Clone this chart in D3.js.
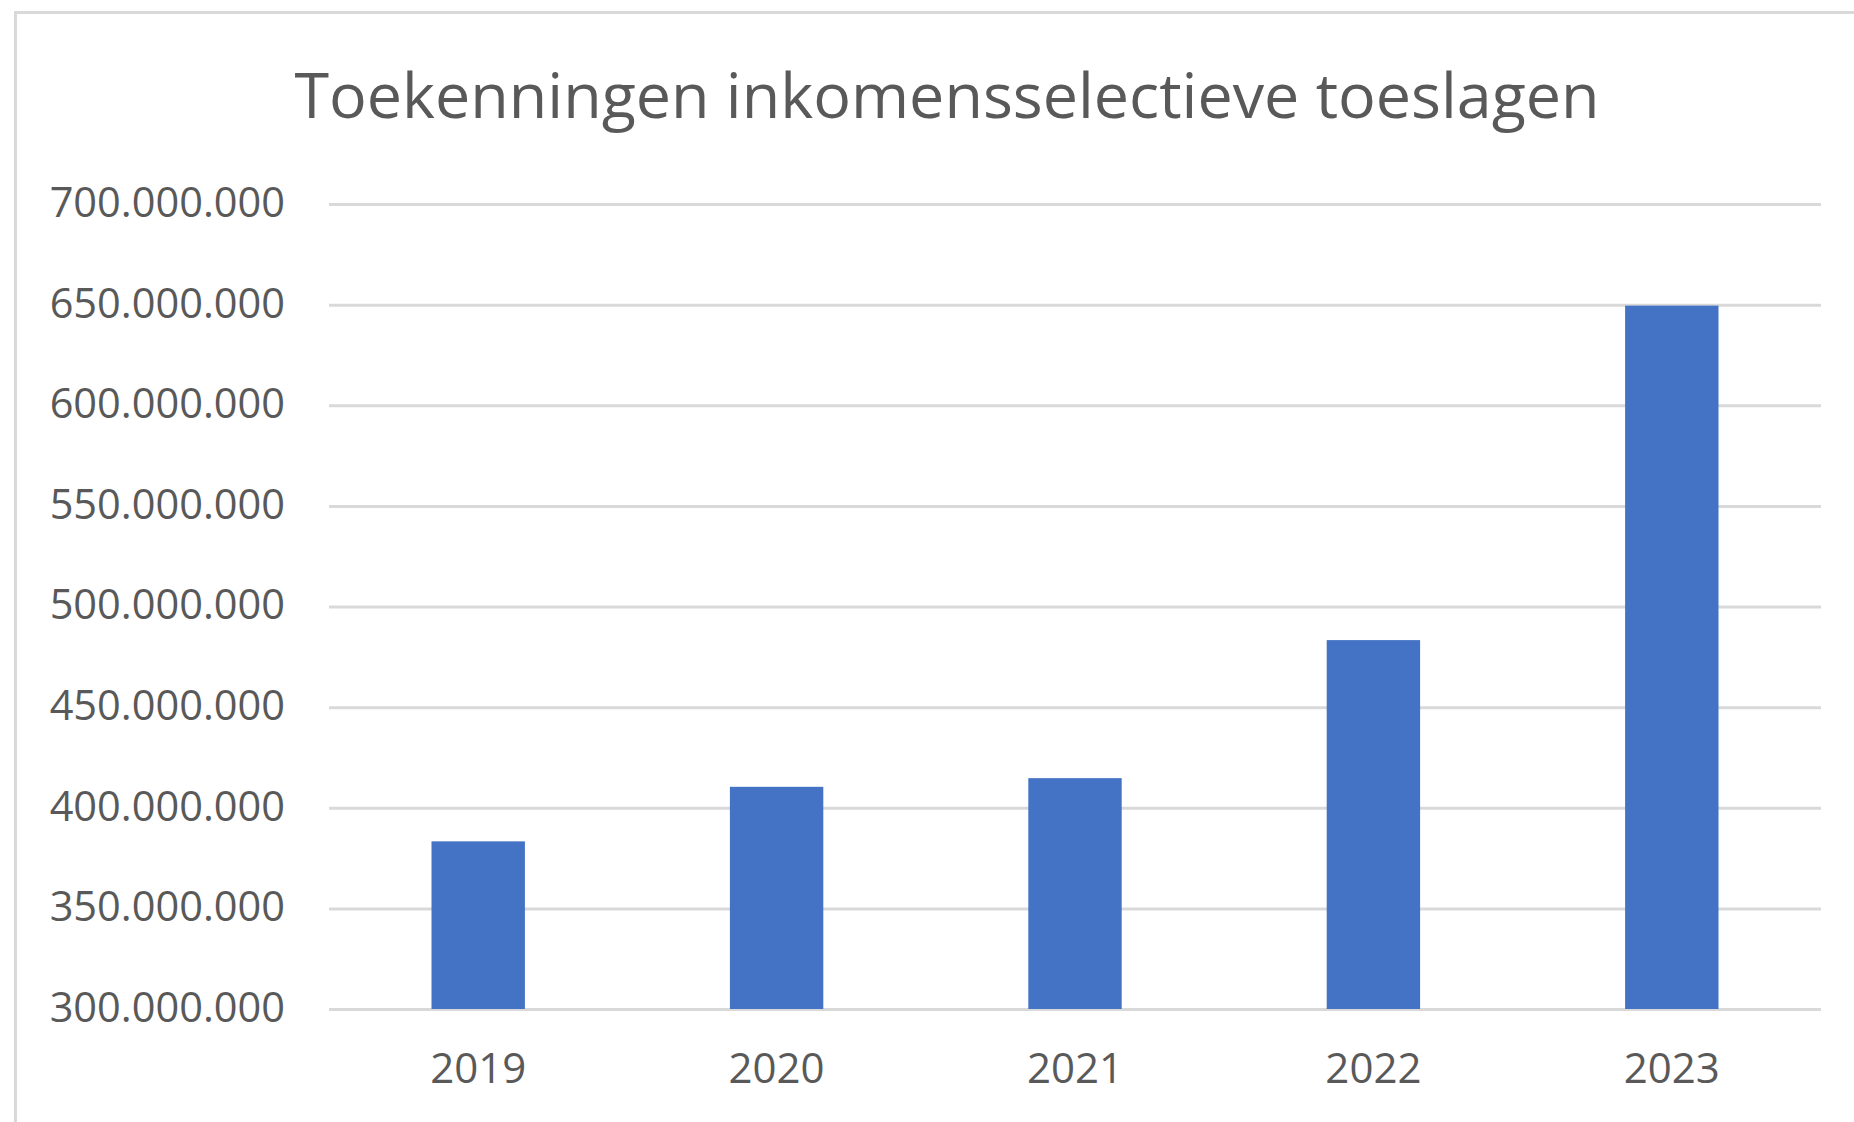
<!DOCTYPE html>
<html>
<head>
<meta charset="utf-8">
<script src="https://cdn.jsdelivr.net/npm/d3@7"></script>
<style>
  html, body { margin: 0; padding: 0; background: #ffffff; }
  svg { display: block; }
</style>
</head>
<body>
<svg id="chart" width="1854" height="1122"></svg>
<script>
const title = "Toekenningen inkomensselectieve toeslagen";
const categories = ["2019", "2020", "2021", "2022", "2023"];
const values = [383300000, 410400000, 414700000, 483300000, 649500000];
const yTicks = [300000000, 350000000, 400000000, 450000000, 500000000, 550000000, 600000000, 650000000, 700000000];

const W = 1854, H = 1122;
const margin = { left: 329, right: 33, top: 204, bottom: 113 };
const svg = d3.select("#chart");
const FONT = "'Open Sans', 'Noto Sans', sans-serif";
const TEXT = "#595959";
const GRID = "#d9d9d9";

// chart border (extends past right/bottom edge)
svg.append("rect")
  .attr("x", 15.5).attr("y", 12.5)
  .attr("width", 2000).attr("height", 2000)
  .attr("fill", "#ffffff")
  .attr("stroke", GRID).attr("stroke-width", 3);

const x = d3.scaleBand()
  .domain(categories)
  .range([margin.left, W - margin.right])
  .paddingInner(0.687)
  .paddingOuter(0.3435);

const y = d3.scaleLinear()
  .domain([300000000, 700000000])
  .range([H - margin.bottom, margin.top]);

const locale = d3.formatLocale({ decimal: ",", thousands: ".", grouping: [3], currency: ["", ""] });
const fmt = locale.format(",d");

// gridlines + y labels
const yAxis = d3.axisLeft(y).tickValues(yTicks).tickSize(-(W - margin.right - margin.left)).tickFormat(fmt).tickPadding(44);
const gy = svg.append("g").attr("transform", `translate(${margin.left},0)`).call(yAxis);
gy.select(".domain").remove();
gy.selectAll(".tick line").attr("stroke", GRID).attr("stroke-width", 3);
gy.selectAll(".tick text")
  .attr("fill", TEXT)
  .style("font-family", FONT)
  .style("font-size", "41.5px")
  .attr("dy", "0.3em");

// bars
svg.append("g").selectAll("rect")
  .data(categories.map((c, i) => ({ c, v: values[i] })))
  .join("rect")
  .attr("x", d => x(d.c))
  .attr("width", x.bandwidth())
  .attr("y", d => y(d.v))
  .attr("height", d => y(300000000) - y(d.v))
  .attr("fill", "#4472c4");

// x axis labels
const xAxis = d3.axisBottom(x).tickSize(0).tickPadding(44);
const gx = svg.append("g").attr("transform", `translate(0,${H - margin.bottom})`).call(xAxis);
gx.select(".domain").remove();
gx.selectAll(".tick text")
  .attr("fill", TEXT)
  .style("font-family", FONT)
  .style("font-size", "42px");

// title
svg.append("text")
  .attr("x", 947).attr("y", 118)
  .attr("text-anchor", "middle")
  .attr("fill", TEXT)
  .style("font-family", FONT)
  .style("font-size", "62.8px")
  .text(title);
</script>
</body>
</html>
